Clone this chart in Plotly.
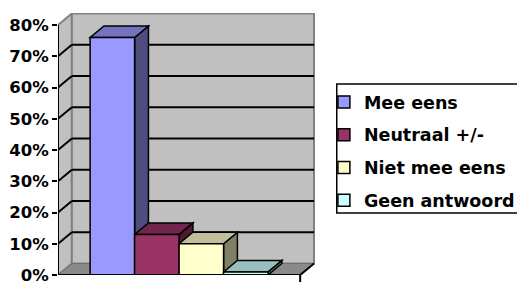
import plotly.graph_objects as go

# ---- data ----
series = ["Mee eens", "Neutraal +/-", "Niet mee eens", "Geen antwoord"]
values = [76, 13, 10, 1]
front_colors = ["#9999ff", "#993366", "#ffffcc", "#ccffff"]
top_colors = ["#7373bf", "#73264d", "#bfbf99", "#99bfbf"]
side_colors = ["#4d4d80", "#4d1a33", "#808066", "#668080"]
tick_vals = [0, 10, 20, 30, 40, 50, 60, 70, 80]
tick_text = ["0%", "10%", "20%", "30%", "40%", "50%", "60%", "70%", "80%"]

# ---- geometry (screen px; page body adds an 8px offset) ----
OFF = 8
W, H = 525 - OFF, 282 - OFF
L, R, T, B = 58, 318, 13, 275          # plot area in screen px
front_w = 245                           # front axis length in px
px_per10 = 31.25
YMAX = (B - T) / px_per10 * 10
XMIN = -0.5
XMAX = XMIN + (R - L) / front_w
DX = 14 / front_w                       # depth offset in x data units
DY = 11.5 / px_per10 * 10               # depth offset in y data units
BARGAP = 1 - 180 / front_w
n = len(series)
bw = (1 - BARGAP) / n
XF0, XF1 = -0.5, 0.5                    # front axis extent

fig = go.Figure()
for i, (s, v) in enumerate(zip(series, values)):
    fig.add_trace(go.Bar(
        x=[0], y=[v], name=s, legendgroup=s,
        marker=dict(color=front_colors[i], line=dict(color="black", width=1.5)),
        hoverinfo="skip",
    ))

shapes = []
edge = dict(color="#808080", width=2)
# side wall (left)
shapes.append(dict(type="path", xref="x", yref="y", layer="below",
                   path=f"M{XF0},{0} L{XF0+DX},{DY} L{XF0+DX},{80+DY} L{XF0},{80} Z",
                   fillcolor="#c0c0c0", line=edge))
# back wall
shapes.append(dict(type="rect", xref="x", yref="y", layer="below",
                   x0=XF0 + DX, x1=XF1 + DX, y0=DY, y1=80 + DY,
                   fillcolor="#c0c0c0", line=edge))
# floor
shapes.append(dict(type="path", xref="x", yref="y", layer="below",
                   path=f"M{XF0},0 L{XF1},0 L{XF1+DX},{DY} L{XF0+DX},{DY} Z",
                   fillcolor="#8a8a8a", line=dict(color="#707070", width=1)))
# gridlines (back wall + side wall diagonals)
for tv in tick_vals[1:-1]:
    shapes.append(dict(type="line", xref="x", yref="y", layer="below",
                       x0=XF0 + DX, x1=XF1 + DX, y0=tv + DY, y1=tv + DY,
                       line=dict(color="black", width=2)))
    shapes.append(dict(type="line", xref="x", yref="y", layer="below",
                       x0=XF0, x1=XF0 + DX, y0=tv, y1=tv + DY,
                       line=dict(color="black", width=2)))
# bar side and top faces
for i, v in enumerate(values):
    x0 = -(1 - BARGAP) / 2 + i * bw
    x1 = x0 + bw
    shapes.append(dict(type="path", xref="x", yref="y", layer="below",
                       path=f"M{x1},0 L{x1+DX},{DY} L{x1+DX},{v+DY} L{x1},{v} Z",
                       fillcolor=side_colors[i], line=dict(color="black", width=1.5)))
    shapes.append(dict(type="path", xref="x", yref="y", layer="below",
                       path=f"M{x0},{v} L{x1},{v} L{x1+DX},{v+DY} L{x0+DX},{v+DY} Z",
                       fillcolor=top_colors[i], line=dict(color="black", width=1.5)))
# axes lines
shapes.append(dict(type="line", xref="x", yref="y", x0=XF0, x1=XF0, y0=0, y1=80,
                   line=dict(color="black", width=2)))
shapes.append(dict(type="line", xref="x", yref="y", x0=XF0, x1=XF1, y0=0, y1=0,
                   line=dict(color="black", width=2)))
shapes.append(dict(type="line", xref="x", yref="y", x0=XF1, x1=XF1 + DX, y0=0, y1=DY,
                   line=dict(color="black", width=2)))
shapes.append(dict(type="line", xref="x", yref="paper", x0=XF1, x1=XF1, y0=0, y1=-7 / (B - T),
                   line=dict(color="black", width=2)))
# legend box
pw, ph = R - L, B - T
shapes.append(dict(type="rect", xref="paper", yref="paper",
                   x0=(340 - L) / pw, x1=(540 - L) / pw,
                   y0=(B - 213) / ph, y1=(B - 84) / ph,
                   line=dict(color="black", width=1.5), fillcolor="rgba(0,0,0,0)"))

fig.update_layout(
    width=W, height=H,
    margin=dict(l=L - OFF, r=W - (R - OFF), t=T - OFF, b=H - (B - OFF), pad=0),
    paper_bgcolor="white", plot_bgcolor="white",
    barmode="group", bargap=BARGAP, bargroupgap=0,
    shapes=shapes,
    showlegend=True,
    legend=dict(x=(327 - L) / pw, y=(B - 84) / ph, xanchor="left", yanchor="top",
                font=dict(family="DejaVu Sans", size=17.5, color="black", weight="bold"),
                bgcolor="rgba(0,0,0,0)", borderwidth=0, tracegroupgap=7,
                itemwidth=30),
    xaxis=dict(type="linear", range=[XMIN, XMAX], showgrid=False, zeroline=False,
               showticklabels=False, ticks="", showline=False, fixedrange=True,
               automargin=False),
    yaxis=dict(range=[0, YMAX], tickvals=tick_vals, ticktext=tick_text,
               showgrid=False, zeroline=False, showline=False, automargin=False,
               ticks="outside", ticklen=5, tickwidth=2, tickcolor="black",
               ticklabeloverflow="allow",
               tickfont=dict(family="DejaVu Sans", size=16.5, color="black", weight="bold"),
               fixedrange=True),
)

fig.write_html("out.html")
